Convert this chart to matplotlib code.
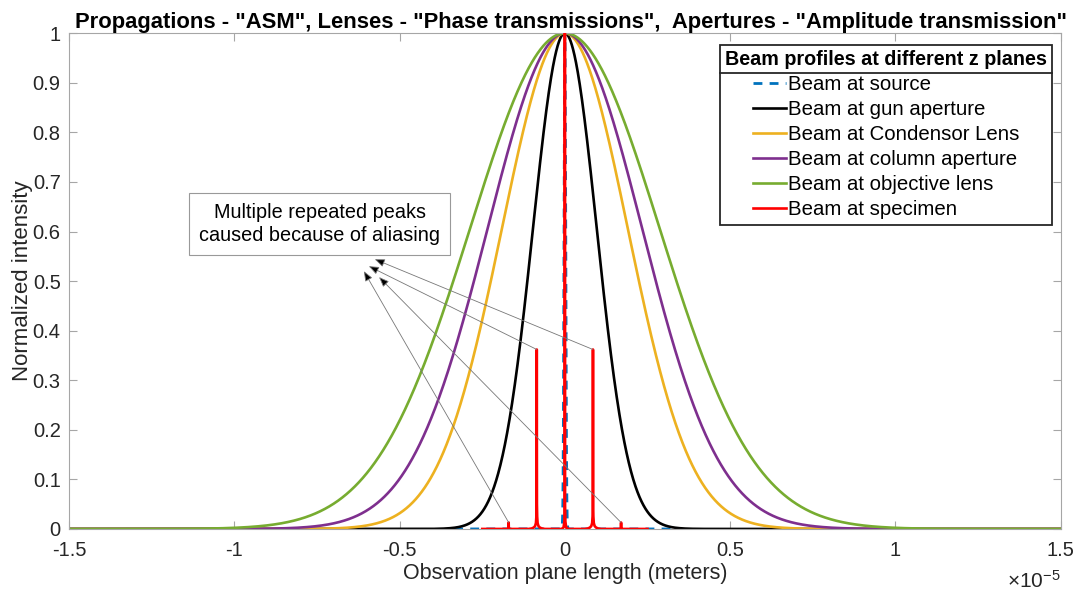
import numpy as np
import matplotlib
matplotlib.use("Agg")
import matplotlib.pyplot as plt
from matplotlib.lines import Line2D

plt.rcParams["font.family"] = ["Liberation Sans", "DejaVu Sans"]
plt.rcParams["mathtext.fontset"] = "custom"
plt.rcParams["mathtext.rm"] = "Liberation Sans"
plt.rcParams["mathtext.it"] = "Liberation Sans:italic"

# ---- data (x in units of 1e-5 m) ----
beam_labels = ["Beam at source", "Beam at gun aperture", "Beam at Condensor Lens",
               "Beam at column aperture", "Beam at objective lens", "Beam at specimen"]
beam_colors = ["#0072BD", "#000000", "#EDB120", "#7E2F8E", "#77AC30", "#FF0000"]

# Gaussian beams: full width at half maximum and the half-extent of the sampled plane
beam_fwhm = [0.006, 0.227, 0.448, 0.550, 0.675]
beam_half_extent = [0.335, 1.5, 1.5, 1.5, 1.5]

# Specimen plane profile (aliased copies of the focused spot)
spec_x = [-0.250, -0.1705, -0.1700, -0.1695, -0.110, -0.100, -0.094, -0.090, -0.0875,
          -0.0862, -0.0855, -0.0850, -0.0845, -0.0838, -0.0825, -0.080, -0.076, -0.070,
          -0.060, -0.010, -0.004, -0.0015, -0.0005, 0.0,
          0.0005, 0.0015, 0.004, 0.010, 0.060, 0.070, 0.076, 0.080, 0.0825, 0.0838,
          0.0845, 0.0850, 0.0855, 0.0862, 0.0875, 0.090, 0.094, 0.100, 0.110,
          0.1695, 0.1700, 0.1705, 0.250]
spec_y = [0.0, 0.0, 0.013, 0.0, 0.0, 0.001, 0.003, 0.006, 0.012,
          0.025, 0.05, 0.362, 0.05, 0.025, 0.012, 0.006, 0.003, 0.001,
          0.0, 0.0, 0.003, 0.015, 0.05, 1.0,
          0.05, 0.015, 0.003, 0.0, 0.0, 0.001, 0.003, 0.006, 0.012, 0.025,
          0.05, 0.362, 0.05, 0.025, 0.012, 0.006, 0.003, 0.001, 0.0,
          0.0, 0.013, 0.0, 0.0]

# aliasing annotation: arrow starts (peaks) and arrow tips
arrow_from_x = [0.085, -0.085, -0.170, 0.170]
arrow_from_y = [0.362, 0.362, 0.013, 0.013]
arrow_to_x = [-0.575, -0.593, -0.608, -0.562]
arrow_to_y = [0.544, 0.530, 0.520, 0.508]

x_ticks = [-1.5, -1, -0.5, 0, 0.5, 1, 1.5]
y_ticks = [0, 0.1, 0.2, 0.3, 0.4, 0.5, 0.6, 0.7, 0.8, 0.9, 1]

# ---- figure ----
fig = plt.figure(figsize=(10.78, 5.93), dpi=100)
ax = fig.add_axes([0.064, 0.108, 0.920, 0.836])

axis_grey = "#a6a6a6"
text_grey = "#262626"

for i, fwhm in enumerate(beam_fwhm):
    ext = beam_half_extent[i]
    x = np.linspace(-ext, ext, 4001)
    y = np.exp(-4 * np.log(2) * x ** 2 / fwhm ** 2)
    if i == 0:
        ax.plot(x, y, color=beam_colors[i], lw=2.0, ls=(0, (3.2, 2.6)),
                label=beam_labels[i], zorder=2)
    else:
        ax.plot(x, y, color=beam_colors[i], lw=1.9, label=beam_labels[i], zorder=2 + i * 0.1)

ax.plot(spec_x, spec_y, color=beam_colors[5], lw=1.9, label=beam_labels[5], zorder=3)

ax.set_xlim(-1.5, 1.5)
ax.set_ylim(0, 1)
ax.set_xticks(x_ticks)
ax.set_yticks(y_ticks)
ax.set_xticklabels(["%g" % t for t in x_ticks])
ax.set_yticklabels(["%g" % t for t in y_ticks])
ax.tick_params(direction="in", length=6, width=0.8, color=axis_grey,
               labelsize=14.5, labelcolor=text_grey, top=True, right=True)
ax.tick_params(axis="x", pad=9)
ax.tick_params(axis="y", pad=6)
for s in ax.spines.values():
    s.set_color(axis_grey)
    s.set_linewidth(0.8)

ax.set_xlabel("Observation plane length (meters)", fontsize=15.5, color=text_grey, labelpad=2)
ax.set_ylabel("Normalized intensity", fontsize=16, color=text_grey, labelpad=0)
ax.text(1.0, -0.083, r"$\times10^{-5}$", transform=ax.transAxes, ha="right", va="top",
        fontsize=15, color=text_grey)

ax.set_title('Propagations - "ASM", Lenses - "Phase transmissions",  Apertures - "Amplitude transmission"',
             fontsize=15.8, fontweight="bold", pad=4, x=0.506)

# annotation
ax.text(-0.741, 0.615, "Multiple repeated peaks\ncaused because of aliasing", ha="center",
        va="center", fontsize=14.3, linespacing=1.25,
        bbox=dict(boxstyle="square,pad=0.5", fc="white", ec="#999999", lw=0.8), zorder=6)
for x0, y0, x1, y1 in zip(arrow_from_x, arrow_from_y, arrow_to_x, arrow_to_y):
    ax.annotate("", xy=(x1, y1), xytext=(x0, y0),
                arrowprops=dict(arrowstyle="-|>,head_length=0.6,head_width=0.24",
                                ec="#777777", fc="black", lw=0.6,
                                shrinkA=0, shrinkB=0), zorder=5)

leg = ax.legend(loc="upper right", bbox_to_anchor=(0.9915, 0.977), fontsize=14.7,
                title="Beam profiles at different z planes",
                title_fontproperties={"weight": "bold", "size": 14.2},
                frameon=True, fancybox=False, framealpha=1, edgecolor=text_grey,
                handlelength=1.6, handletextpad=0.1, labelspacing=0.3,
                borderpad=0.25, borderaxespad=0)
leg.get_frame().set_linewidth(1.3)
leg.set_zorder(10)

fig.canvas.draw()
tb = leg.get_title().get_window_extent()
fb = leg.get_frame().get_window_extent()
y_sep = tb.y0 - 4
inv = fig.transFigure.inverted()
(xa, ya) = inv.transform((fb.x0, y_sep))
(xb, _) = inv.transform((fb.x1, y_sep))
fig.add_artist(Line2D([xa, xb], [ya, ya], color=text_grey, lw=1.3, zorder=11))

fig.savefig("out.png", dpi=100)
